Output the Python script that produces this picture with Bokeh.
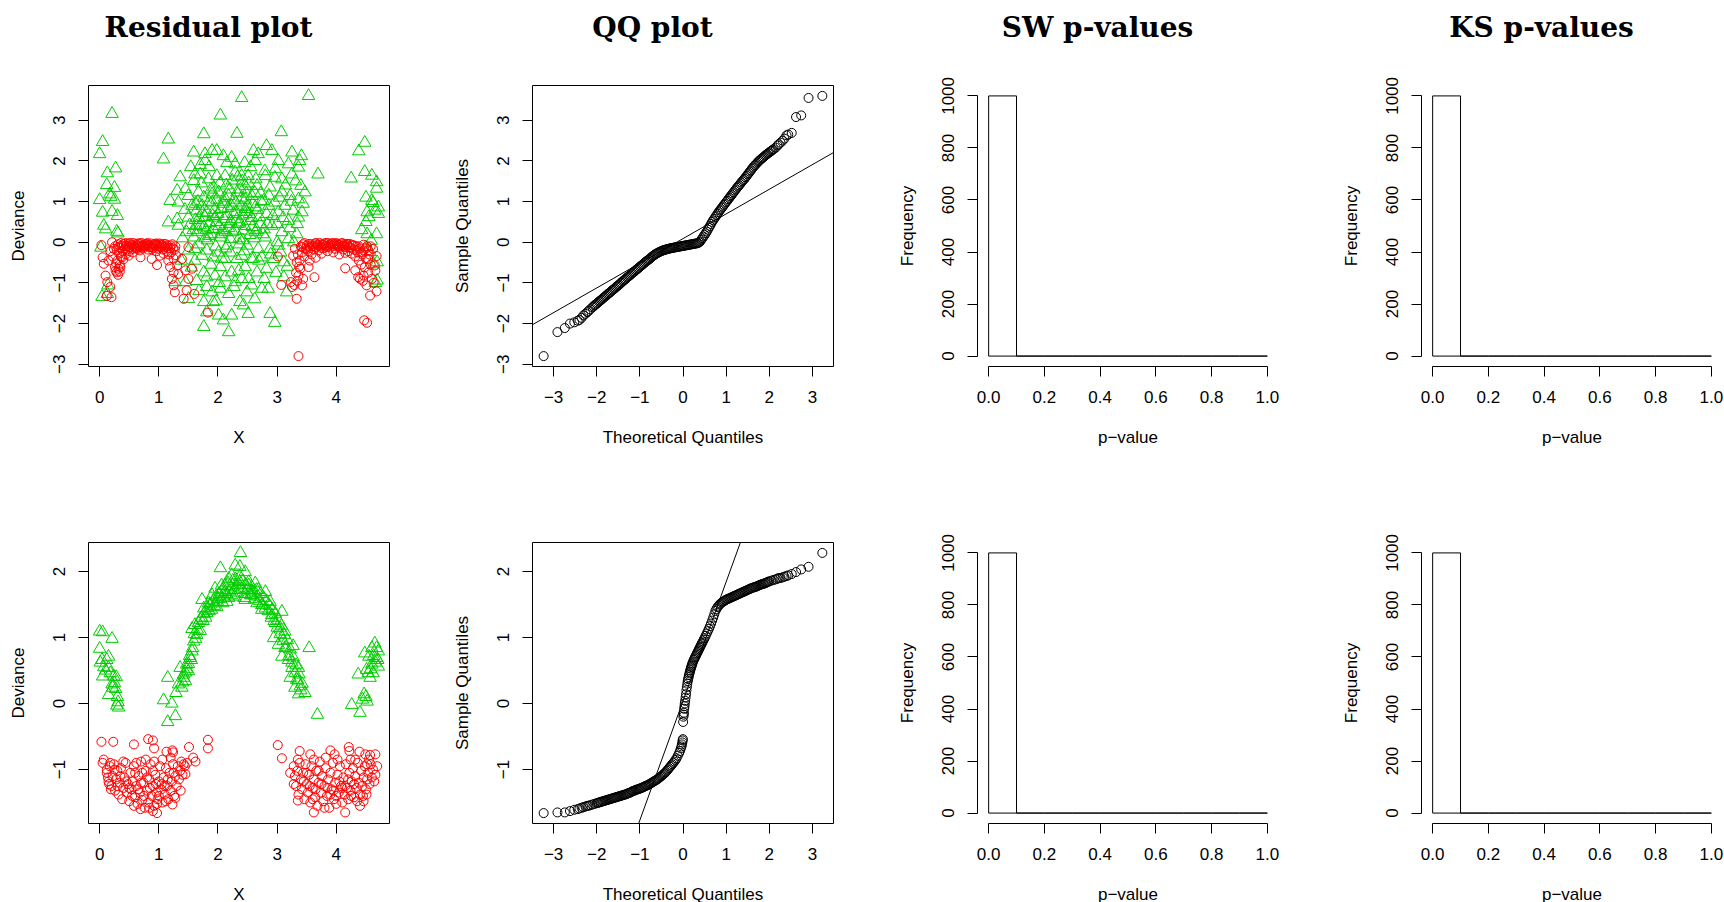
import numpy as np
from statistics import NormalDist

from bokeh.plotting import figure
from bokeh.models import Range1d, FixedTicker, CustomJSTickFormatter, Slope
from bokeh.layouts import column, row
from bokeh.embed import file_html
from bokeh.resources import INLINE
from bokeh.core.properties import value

# ---------------------------------------------------------------- data
titles = ["Residual plot", "QQ plot", "SW p-values", "KS p-values"]

# top row: deviance residuals against X (green = one group, red = the other)
res1_green = [
    (0.00, 2.17), (0.05, 2.47), (0.21, 3.16), (0.00, 1.04), (0.13, 1.70), (0.27, 1.82), (0.12, 1.41),
    (0.25, 1.34), (0.17, 1.18), (0.25, 1.05), (0.05, 0.73), (0.21, 0.75), (0.30, 0.65), (0.07, 0.41),
    (0.10, 0.32), (0.29, 0.26), (0.31, 0.22), (0.02, -0.13), (0.04, -1.34), (0.13, -1.27), (0.14, -1.06),
    (0.19, 1.12),
    (1.08, 2.04), (1.16, 2.53), (1.76, 2.66), (2.04, 3.12), (2.40, 3.55), (2.32, 2.67), (1.59, 2.21),
    (1.78, 2.17), (1.90, 2.25), (1.98, 2.25), (1.78, 2.00), (2.09, 2.12), (2.23, 2.08), (2.29, 1.92),
    (1.61, 1.67), (1.70, 1.67), (1.59, 1.51), (1.84, 1.55), (1.98, 1.63), (2.12, 1.63), (2.29, 1.72),
    (1.31, 1.27), (1.45, 1.31), (1.19, 1.02), (1.33, 0.98), (1.50, 1.14), (1.67, 1.23), (1.76, 1.10),
    (1.90, 1.18), (2.01, 1.23), (2.18, 1.14), (2.32, 1.23), (1.16, 0.49), (1.31, 0.57), (1.33, 0.41),
    (1.50, 0.61), (1.56, 0.90), (1.64, 0.78), (1.73, 0.90), (1.81, 0.74), (1.90, 0.98), (1.95, 0.61),
    (2.06, 0.82), (2.15, 0.65), (2.23, 0.90), (2.32, 0.57), (1.47, 0.25), (1.59, 0.12), (1.67, 0.25),
    (1.76, 0.37), (1.84, 0.16), (1.92, 0.33), (2.04, 0.12), (2.12, 0.25), (2.21, 0.08), (2.29, 0.29),
    (1.50, -0.20), (1.61, -0.16), (1.73, -0.33), (1.81, -0.20), (1.92, -0.37), (2.01, -0.25), (2.12, -0.41),
    (2.21, -0.25), (2.32, -0.41), (1.61, -0.45), (1.76, -0.74), (1.81, -0.86), (1.95, -0.82), (2.04, -0.61),
    (2.12, -0.86), (2.23, -0.74), (2.29, -0.98), (1.28, -0.98), (1.45, -0.98), (1.50, -1.39), (1.81, -1.10),
    (1.90, -1.23), (2.04, -1.14), (2.18, -1.27), (1.76, -1.47), (1.81, -1.72), (1.76, -2.08), (2.01, -1.80),
    (2.23, -1.80), (2.09, -1.92), (2.18, -2.21), (1.92, -1.47),
    (3.53, 3.60), (3.07, 2.71), (2.82, 2.37), (2.91, 2.25), (2.68, 2.17), (2.63, 2.00), (3.25, 2.21),
    (3.41, 2.12), (3.02, 2.00), (3.19, 1.92), (3.36, 1.84), (3.69, 1.67), (2.40, 1.63), (2.51, 1.63),
    (2.80, 1.63), (2.96, 1.59), (3.08, 1.55), (3.25, 1.67), (3.40, 1.39), (3.47, 1.23), (2.46, 1.39),
    (2.66, 1.39), (2.88, 1.35), (3.08, 1.23), (3.22, 1.14), (3.36, 1.06), (2.40, 1.10), (2.57, 1.14),
    (2.77, 1.02), (2.96, 0.98), (3.13, 0.90), (3.27, 0.78), (3.42, 0.74), (2.46, 0.82), (2.63, 0.86),
    (2.82, 0.70), (3.02, 0.74), (3.19, 0.53), (3.36, 0.61), (2.37, 0.49), (2.54, 0.53), (2.71, 0.45),
    (2.91, 0.41), (3.08, 0.25), (3.33, 0.20), (2.43, 0.29), (2.63, 0.25), (2.80, 0.12), (3.00, 0.00),
    (3.19, 0.08), (2.49, -0.08), (2.68, -0.16), (2.88, -0.16), (3.02, -0.08), (2.40, -0.33), (2.57, -0.41),
    (2.74, -0.37), (2.94, -0.41), (3.11, -0.49), (2.46, -0.61), (2.66, -0.74), (2.82, -0.65), (3.11, -0.86),
    (2.40, -0.90), (2.57, -1.06), (2.74, -1.14), (2.49, -1.23), (2.85, -1.14), (3.16, -1.23), (2.37, -1.47),
    (2.51, -1.76), (2.88, -1.76), (2.96, -1.98), (2.43, -1.55),
    (1.62, 0.55), (1.70, 0.42), (1.78, 0.62), (1.86, 0.48), (1.94, 0.80), (2.02, 0.40), (2.10, 0.58),
    (2.18, 0.35), (2.26, 0.70), (2.34, 0.45), (2.42, 0.66), (2.50, 0.88), (2.58, 0.38), (1.66, 1.00),
    (1.74, 0.72), (1.88, 1.30), (1.98, 1.05), (2.05, 0.20), (2.14, 1.40), (2.22, 0.52), (2.30, 0.98),
    (2.38, 1.30), (2.46, 1.05), (2.54, 0.18), (2.62, 1.22), (2.70, 0.62), (2.78, 0.32), (1.58, 0.30),
    (1.68, -0.05), (1.82, 0.05), (1.96, -0.10), (2.08, 0.95), (2.16, -0.08), (2.24, 1.52), (2.36, 0.10),
    (2.44, -0.22), (2.52, 1.45), (2.60, -0.40), (2.72, 1.20), (2.86, 0.90), (1.52, 0.42), (1.44, 0.80),
    (1.38, -0.45), (1.55, -0.62), (1.64, -0.95),
    (1.62, 0.95), (1.68, 0.60), (1.72, 1.45), (1.80, 0.30), (1.85, 1.00), (1.88, 0.20), (1.93, 1.35),
    (1.97, 0.50), (2.00, 0.70), (2.03, 1.45), (2.07, 0.30), (2.11, 1.10), (2.13, -0.15), (2.17, 0.85),
    (2.20, 1.30), (2.25, 0.25), (2.27, 1.05), (2.31, 0.75), (2.33, 1.60), (2.36, -0.05), (2.39, 0.88),
    (2.41, 1.50), (2.45, 0.40), (2.48, 1.20), (2.53, 0.70), (2.55, 1.85), (2.59, 0.95), (2.61, 0.10),
    (2.64, 1.55), (2.67, 0.80), (2.69, -0.45), (2.73, 1.00), (2.76, 0.20), (2.79, 1.75), (2.83, 0.45),
    (2.86, 1.15), (2.89, -0.30), (2.93, 0.65), (2.97, 1.80), (3.00, 0.45), (3.04, 1.10), (3.06, -0.25),
    (3.10, 0.60), (3.14, 1.40), (3.17, -0.60), (3.21, 0.35), (3.24, 1.00), (3.28, 0.00), (3.31, 1.50),
    (3.34, 0.45), (3.38, 2.00), (3.44, 0.95), (1.70, 1.90), (1.85, 1.85), (2.15, 1.95), (2.45, 1.95),
    (2.60, 2.25), (1.40, 0.10), (1.36, 1.60), (1.54, 1.85), (1.88, -0.55), (2.02, -1.00), (2.27, -1.10),
    (2.52, -0.90), (2.78, -0.90), (2.98, -0.75), (1.97, -1.45), (2.62, -1.40), (1.68, -1.20), (2.35, -0.70),
    (2.06, -0.40), (2.42, 0.05), (1.78, 0.10), (2.19, 0.45), (2.57, 0.60), (1.91, 0.65), (2.10, 1.00),
    (2.48, 0.75), (2.65, 0.30), (1.64, 0.40),
    (4.48, 2.45), (4.38, 2.24), (4.25, 1.57), (4.48, 1.73), (4.60, 1.64), (4.68, 1.48), (4.68, 1.32),
    (4.50, 1.10), (4.60, 1.02), (4.71, 0.86), (4.52, 0.74), (4.65, 0.78), (4.71, 0.70), (4.50, 0.50),
    (4.43, 0.30), (4.52, 0.20), (4.68, 0.20), (4.59, 0.04), (4.50, -0.12), (4.69, -0.49), (4.63, -0.54),
    (4.69, -0.94), (4.66, -1.00), (4.57, -0.24), (4.62, 0.97), (4.55, 0.62),
]

res1_red = [
    (0.03, -0.07), (0.05, -0.37), (0.07, -0.53), (0.10, -0.82), (0.13, -0.98), (0.18, -1.10), (0.20, -1.35),
    (0.12, -1.32), (0.26, -0.61), (0.32, -0.65), (0.35, -0.61), (0.29, -0.74), (0.24, -0.16), (0.21, 0.00),
    (0.38, -0.37), (0.49, -0.33), (0.69, -0.37), (0.97, -0.56), (0.88, -0.41), (1.02, -0.33), (1.16, -0.45),
    (1.19, -0.61), (1.31, -0.57), (1.25, -0.74), (1.33, -0.78), (1.25, -1.06), (1.22, -0.90), (1.27, -1.23),
    (1.39, -0.41), (1.45, -0.69), (1.50, -0.12), (1.56, -0.65), (1.50, -0.90), (1.47, -1.18), (1.60, -1.27),
    (1.42, -1.39), (1.83, -1.73), (0.31, -0.80), (0.27, -0.70), (0.34, -0.72),
    (0.26, -0.10), (0.29, -0.20), (0.31, -0.05), (0.33, -0.28), (0.35, -0.14), (0.37, -0.08), (0.39, -0.22),
    (0.41, -0.04), (0.43, -0.15), (0.45, -0.09), (0.47, -0.18), (0.49, -0.03), (0.51, -0.12), (0.53, -0.06),
    (0.55, -0.16), (0.57, -0.02), (0.59, -0.10), (0.61, -0.05), (0.63, -0.13), (0.65, -0.03), (0.67, -0.08),
    (0.69, -0.12), (0.71, -0.02), (0.73, -0.07), (0.75, -0.11), (0.77, -0.04), (0.79, -0.09), (0.81, -0.02),
    (0.83, -0.06), (0.85, -0.12), (0.87, -0.03), (0.89, -0.08), (0.91, -0.14), (0.93, -0.04), (0.95, -0.10),
    (0.97, -0.06), (0.99, -0.16), (1.01, -0.03), (1.03, -0.11), (1.05, -0.07), (1.07, -0.18), (1.09, -0.04),
    (1.11, -0.12), (1.13, -0.22), (1.15, -0.08), (1.17, -0.30), (1.19, -0.14), (1.21, -0.25), (1.23, -0.05),
    (1.25, -0.40), (1.27, -0.18), (1.29, -0.32), (0.44, -0.30), (0.56, -0.25), (0.68, -0.20), (0.82, -0.18),
    (0.96, -0.22), (1.08, -0.28), (0.62, -0.16), (0.74, -0.15), (0.88, -0.17), (0.50, -0.22), (0.36, -0.35),
    (0.40, -0.42), (0.30, -0.45), (0.34, -0.55), (0.28, -0.52), (0.22, -0.35), (0.18, -0.22), (0.15, -0.45),
    (0.32, -0.12), (0.36, -0.02), (0.40, -0.10), (0.44, -0.02), (0.48, -0.10), (0.52, -0.02), (0.56, -0.08),
    (0.60, -0.14), (0.64, -0.08), (0.68, -0.03), (0.72, -0.10), (0.76, -0.08), (0.80, -0.05), (0.84, -0.09),
    (0.88, -0.12), (0.92, -0.07), (0.96, -0.03), (1.00, -0.09), (1.04, -0.05), (1.08, -0.10), (1.12, -0.05),
    (1.16, -0.15), (1.20, -0.08), (1.24, -0.15), (1.28, -0.10),
    (3.01, -0.35), (3.07, -1.05), (3.25, -1.10), (3.42, -1.06), (3.44, -0.90), (3.33, -1.39), (3.36, -2.80),
    (3.23, -0.98), (3.36, -0.82), (3.39, -0.65), (3.53, -0.61), (3.63, -0.86), (3.33, -0.49), (3.30, -0.16),
    (3.27, -0.33), (4.15, -0.64), (4.32, -0.69), (4.37, -0.86), (4.46, -0.82), (4.40, -0.90), (4.51, -1.06),
    (4.57, -1.31), (4.68, -1.21), (4.47, -1.92), (4.52, -1.98), (4.62, -0.16), (4.68, -0.34), (4.65, -0.57),
    (4.54, -0.41),
    (3.40, -0.10), (3.42, -0.25), (3.44, -0.05), (3.46, -0.35), (3.48, -0.15), (3.50, -0.08), (3.52, -0.22),
    (3.54, -0.04), (3.56, -0.14), (3.58, -0.30), (3.60, -0.09), (3.62, -0.18), (3.64, -0.03), (3.66, -0.12),
    (3.68, -0.06), (3.70, -0.20), (3.72, -0.02), (3.74, -0.10), (3.76, -0.05), (3.78, -0.15), (3.80, -0.03),
    (3.82, -0.08), (3.84, -0.12), (3.86, -0.02), (3.88, -0.07), (3.90, -0.13), (3.92, -0.03), (3.94, -0.09),
    (3.96, -0.05), (3.98, -0.16), (4.00, -0.02), (4.02, -0.10), (4.04, -0.06), (4.06, -0.14), (4.08, -0.03),
    (4.10, -0.09), (4.12, -0.18), (4.14, -0.05), (4.16, -0.12), (4.18, -0.07), (4.20, -0.22), (4.22, -0.04),
    (4.24, -0.14), (4.26, -0.28), (4.28, -0.08), (4.30, -0.18), (4.32, -0.35), (4.34, -0.10), (4.36, -0.25),
    (4.38, -0.45), (4.40, -0.15), (4.42, -0.55), (4.44, -0.30), (4.46, -0.20), (4.48, -0.62), (4.50, -0.40),
    (4.52, -0.10), (4.54, -0.75), (4.56, -0.30), (4.58, -0.55), (3.55, -0.45), (3.65, -0.38), (3.75, -0.28),
    (3.85, -0.22), (3.95, -0.25), (4.05, -0.30), (4.15, -0.26), (3.35, -0.30), (3.37, -0.60), (3.38, -0.45),
    (3.32, -0.75), (3.34, -0.95), (3.29, -1.05), (4.60, -0.90), (4.63, -1.00), (4.66, -0.70), (4.45, -0.95),
    (3.42, -0.12), (3.46, -0.02), (3.50, -0.18), (3.54, -0.10), (3.58, -0.05), (3.62, -0.10), (3.66, -0.02),
    (3.70, -0.08), (3.74, -0.14), (3.78, -0.06), (3.82, -0.02), (3.86, -0.10), (3.90, -0.05), (3.94, -0.02),
    (3.98, -0.08), (4.02, -0.04), (4.06, -0.08), (4.10, -0.02), (4.14, -0.10), (4.18, -0.04), (4.22, -0.12),
    (4.26, -0.06), (4.30, -0.08), (4.34, -0.20), (4.38, -0.10), (4.42, -0.25), (4.46, -0.06), (4.50, -0.15),
    (4.54, -0.20), (4.58, -0.10),
]

# bottom row residuals
res2_green = [
    (0.00, 1.09), (0.05, 1.08), (0.21, 0.98), (0.00, 0.83), (0.04, 0.66), (0.12, 0.66), (0.15, 0.71),
    (0.07, 0.55), (0.05, 0.41), (0.15, 0.54), (0.24, 0.41), (0.28, 0.40), (0.21, 0.29), (0.25, 0.31),
    (0.22, 0.24), (0.15, 0.13), (0.31, 0.02), (0.29, -0.03), (0.32, -0.06), (0.01, 0.62), (0.10, 0.50),
    (0.18, 0.46), (0.27, 0.22), (0.30, 0.10),
    (1.08, 0.05), (1.15, 0.39), (1.15, -0.28), (1.28, -0.19), (1.22, 0.00), (1.29, 0.16), (1.33, 0.29),
    (1.39, 0.24), (1.42, 0.39), (1.45, 0.34), (1.50, 0.49), (1.36, 0.54), (1.47, 0.59), (1.53, 0.69),
    (1.56, 0.79), (1.59, 0.94), (1.56, 1.13), (1.61, 1.19), (1.64, 1.04), (1.70, 1.27), (1.73, 1.57),
    (1.76, 1.44), (1.81, 1.37), (1.84, 1.52), (1.90, 1.64), (1.95, 1.74), (2.04, 2.05), (2.00, 1.59),
    (2.06, 1.79), (2.12, 1.69), (2.18, 1.89), (2.23, 1.94), (2.29, 2.09), (2.38, 2.28), (2.15, 1.54),
    (2.23, 1.64), (2.32, 1.79), (2.37, 2.07), (2.46, 1.99), (2.37, 1.84), (2.52, 1.79), (2.63, 1.82),
    (2.68, 1.72), (2.80, 1.69), (2.88, 1.54), (3.08, 1.39), (2.57, 1.64), (2.46, 1.57), (2.74, 1.49),
    (2.91, 1.34), (2.97, 1.22), (3.05, 1.14), (3.13, 1.09), (2.94, 0.99), (3.02, 0.89), (3.13, 0.84),
    (3.27, 0.87), (3.08, 0.71), (3.19, 0.66), (3.36, 0.54), (3.25, 0.54), (3.22, 0.39), (3.33, 0.36),
    (3.30, 0.24), (3.39, 0.26), (3.36, 0.14), (3.47, 0.16), (3.54, 0.84), (3.68, -0.17),
    (1.60, 1.05), (1.62, 0.98), (1.65, 1.12), (1.67, 1.22), (1.70, 1.10), (1.72, 1.30), (1.75, 1.25),
    (1.77, 1.36), (1.79, 1.30), (1.82, 1.45), (1.85, 1.40), (1.87, 1.50), (1.89, 1.42), (1.92, 1.56),
    (1.94, 1.48), (1.97, 1.62), (1.99, 1.54), (2.02, 1.66), (2.05, 1.58), (2.07, 1.72), (2.10, 1.62),
    (2.12, 1.78), (2.15, 1.66), (2.17, 1.82), (2.20, 1.70), (2.22, 1.76), (2.25, 1.86), (2.27, 1.72),
    (2.30, 1.88), (2.32, 1.68), (2.35, 1.80), (2.37, 1.92), (2.40, 1.74), (2.42, 1.86), (2.45, 1.66),
    (2.47, 1.80), (2.50, 1.72), (2.52, 1.84), (2.55, 1.64), (2.57, 1.76), (2.60, 1.68), (2.62, 1.58),
    (2.65, 1.72), (2.67, 1.62), (2.70, 1.55), (2.72, 1.66), (2.75, 1.50), (2.77, 1.60), (2.80, 1.44),
    (2.82, 1.55), (2.85, 1.40), (2.87, 1.48), (2.90, 1.30), (2.92, 1.42), (2.95, 1.25), (2.97, 1.36),
    (3.00, 1.15), (3.02, 1.26), (3.05, 1.05), (3.07, 1.18), (3.10, 0.95), (3.12, 1.04), (3.15, 0.85),
    (3.17, 0.96), (3.20, 0.72), (3.22, 0.82), (3.25, 0.62), (3.27, 0.70), (3.30, 0.46), (3.32, 0.58),
    (3.35, 0.35), (3.37, 0.44), (3.40, 0.20), (3.42, 0.30), (1.50, 0.60), (1.52, 0.72), (1.55, 0.66),
    (1.57, 0.84), (1.45, 0.47), (1.47, 0.52), (1.40, 0.32), (1.42, 0.44), (2.28, 1.62), (2.44, 1.60),
    (2.18, 1.60), (2.56, 1.70), (2.08, 1.52), (2.66, 1.52), (1.98, 1.46), (2.74, 1.42),
    (4.26, -0.02), (4.40, -0.14), (4.47, 0.14), (4.44, 0.06), (4.37, 0.44), (4.48, 0.76), (4.55, 0.71),
    (4.60, 0.59), (4.51, 0.51), (4.65, 0.91), (4.68, 0.84), (4.71, 0.79), (4.62, 0.46), (4.57, 0.39),
    (4.68, 0.69), (4.60, 0.84), (4.54, 0.46), (4.71, 0.56), (4.50, 0.10), (4.52, 0.03), (4.66, 0.62),
    (4.63, 0.72), (4.58, 0.52), (4.70, 0.66),
]

res2_red = [
    (0.03, -0.58), (0.23, -0.58), (0.58, -0.62), (0.82, -0.54), (0.90, -0.56), (0.92, -0.68), (1.13, -0.73),
    (1.23, -0.71), (1.24, -0.74), (1.51, -0.66), (1.83, -0.55), (1.83, -0.68), (1.58, -0.82), (1.62, -0.88),
    (0.97, -1.66), (0.69, -1.60), (0.90, -1.63), (0.07, -0.85), (0.05, -0.90), (0.12, -1.00), (0.14, -1.12),
    (0.16, -1.22), (0.19, -1.30), (1.23, -1.53), (1.28, -1.43), (1.37, -1.32), (1.45, -1.07), (1.42, -0.92),
    (0.12, -1.05), (0.15, -1.18), (0.17, -0.95), (0.20, -1.25), (0.22, -1.10), (0.24, -0.92), (0.26, -1.32),
    (0.28, -1.15), (0.30, -1.02), (0.32, -1.38), (0.34, -1.20), (0.36, -0.98), (0.38, -1.45), (0.40, -1.28),
    (0.42, -1.12), (0.44, -0.90), (0.46, -1.35), (0.48, -1.22), (0.50, -1.48), (0.52, -1.05), (0.54, -1.30),
    (0.56, -1.18), (0.58, -0.95), (0.60, -1.42), (0.62, -1.25), (0.64, -1.52), (0.66, -1.10), (0.68, -1.35),
    (0.70, -0.88), (0.72, -1.46), (0.74, -1.20), (0.76, -1.58), (0.78, -1.02), (0.80, -1.32), (0.82, -1.50),
    (0.84, -1.15), (0.86, -0.92), (0.88, -1.40), (0.90, -1.25), (0.92, -1.55), (0.94, -1.08), (0.96, -1.35),
    (0.98, -1.45), (1.00, -1.18), (1.02, -0.95), (1.04, -1.30), (1.06, -1.50), (1.08, -1.12), (1.10, -1.38),
    (1.12, -0.98), (1.14, -1.25), (1.16, -1.45), (1.18, -1.05), (1.20, -1.32), (1.22, -1.18), (1.24, -0.92),
    (1.26, -1.40), (1.28, -1.10), (1.30, -1.25), (1.32, -0.95), (1.34, -1.15), (1.36, -1.02), (1.38, -0.88),
    (1.40, -1.08), (1.44, -0.95), (1.48, -0.90), (0.35, -1.10), (0.45, -1.18), (0.55, -1.40), (0.65, -1.30),
    (0.75, -1.40), (0.85, -1.28), (0.95, -1.22), (1.05, -1.22), (1.15, -1.15), (1.25, -1.05), (0.25, -1.00),
    (0.18, -0.90), (0.40, -0.88), (0.60, -1.05), (0.70, -1.20), (0.80, -1.12), (0.90, -1.02), (1.00, -1.40),
    (1.10, -1.25), (0.50, -1.28), (0.58, -1.55), (0.72, -1.05), (0.84, -1.58), (0.97, -1.52), (1.12, -1.48),
    (0.30, -1.25), (0.62, -0.90), (0.78, -0.85), (0.92, -0.88), (1.06, -0.85), (1.20, -0.82),
    (3.01, -0.63), (3.08, -0.83), (3.22, -1.05), (3.28, -1.22), (3.35, -1.47), (3.62, -1.65), (4.15, -1.65),
    (3.38, -0.72), (3.56, -0.77), (3.90, -0.71), (3.97, -0.77), (4.21, -0.66), (4.22, -0.72), (4.39, -0.73),
    (4.49, -0.77), (4.57, -0.78), (4.66, -0.77), (4.69, -0.95), (4.52, -0.92), (4.46, -1.48), (4.51, -1.38),
    (4.24, -0.85),
    (3.28, -0.95), (3.30, -1.10), (3.32, -1.25), (3.34, -1.02), (3.36, -1.38), (3.38, -0.90), (3.40, -1.15),
    (3.42, -1.30), (3.44, -1.05), (3.46, -1.45), (3.48, -0.92), (3.50, -1.22), (3.52, -1.35), (3.54, -1.08),
    (3.56, -1.50), (3.58, -0.95), (3.60, -1.28), (3.62, -1.15), (3.64, -1.42), (3.66, -1.02), (3.68, -1.55),
    (3.70, -1.20), (3.72, -0.88), (3.74, -1.35), (3.76, -1.10), (3.78, -1.48), (3.80, -1.25), (3.82, -0.98),
    (3.84, -1.40), (3.86, -1.15), (3.88, -1.58), (3.90, -1.05), (3.92, -1.30), (3.94, -0.90), (3.96, -1.45),
    (3.98, -1.20), (4.00, -1.52), (4.02, -1.08), (4.04, -1.35), (4.06, -0.95), (4.08, -1.25), (4.10, -1.50),
    (4.12, -1.12), (4.14, -1.38), (4.16, -0.92), (4.18, -1.28), (4.20, -1.45), (4.22, -1.05), (4.24, -1.32),
    (4.26, -1.18), (4.28, -0.98), (4.30, -1.42), (4.32, -1.10), (4.34, -1.28), (4.36, -0.90), (4.38, -1.20),
    (4.40, -1.38), (4.42, -1.02), (4.44, -1.25), (4.46, -1.12), (4.48, -0.95), (4.50, -1.30), (4.52, -1.15),
    (4.54, -1.05), (4.56, -1.22), (4.58, -0.92), (4.60, -1.12), (4.62, -1.00), (4.64, -1.18), (4.66, -1.08),
    (3.45, -1.18), (3.55, -1.25), (3.65, -1.30), (3.75, -1.22), (3.85, -1.28), (3.95, -1.32), (4.05, -1.18),
    (4.15, -1.25), (4.25, -1.40), (4.35, -1.48), (4.45, -1.40), (3.50, -1.05), (3.70, -1.02), (3.90, -1.38),
    (4.10, -1.28), (4.30, -1.22), (3.60, -1.45), (3.80, -1.58), (4.00, -1.40), (4.20, -1.15), (4.40, -1.55),
    (3.35, -0.85), (3.62, -0.85), (3.82, -0.82), (4.02, -0.85), (4.32, -0.85), (4.55, -0.85),
]

# normal QQ plots: (theoretical quantile, sample quantile)
qq1 = [
    (-3.23, -2.80), (-2.91, -2.21), (-2.74, -2.11), (-2.62, -2.00), (-2.52, -1.97), (-2.44, -1.93),
    (-2.40, -1.91), (-2.35, -1.86), (-2.31, -1.80), (-2.26, -1.76), (-2.22, -1.72), (-2.19, -1.69),
    (-2.15, -1.65), (-2.10, -1.60), (-2.05, -1.55), (-2.00, -1.51), (-1.95, -1.46), (-1.90, -1.42),
    (-1.85, -1.37), (-1.80, -1.33), (-1.75, -1.28), (-1.70, -1.24), (-1.65, -1.19), (-1.60, -1.15),
    (-1.55, -1.10), (-1.50, -1.06), (-1.45, -1.01), (-1.40, -0.96), (-1.35, -0.92), (-1.30, -0.87),
    (-1.25, -0.83), (-1.20, -0.78), (-1.15, -0.74), (-1.10, -0.69), (-1.05, -0.65), (-1.00, -0.60),
    (-0.95, -0.56), (-0.90, -0.51), (-0.85, -0.47), (-0.80, -0.43), (-0.75, -0.385), (-0.70, -0.34),
    (-0.65, -0.30), (-0.60, -0.27), (-0.55, -0.24), (-0.50, -0.215), (-0.45, -0.195), (-0.40, -0.18),
    (-0.35, -0.165), (-0.30, -0.15), (-0.25, -0.14), (-0.20, -0.13), (-0.15, -0.12), (-0.10, -0.11),
    (-0.05, -0.10), (0.00, -0.09), (0.05, -0.08), (0.10, -0.07), (0.15, -0.06), (0.20, -0.05),
    (0.25, -0.04), (0.30, -0.03), (0.35, -0.02), (0.40, 0.02), (0.45, 0.10), (0.50, 0.18),
    (0.55, 0.26), (0.60, 0.36), (0.65, 0.45), (0.70, 0.54), (0.75, 0.62), (0.80, 0.70),
    (0.85, 0.78), (0.90, 0.85), (0.95, 0.92), (1.00, 0.99), (1.05, 1.06), (1.10, 1.13),
    (1.15, 1.20), (1.20, 1.27), (1.25, 1.34), (1.30, 1.40), (1.35, 1.47), (1.40, 1.53),
    (1.45, 1.60), (1.50, 1.67), (1.55, 1.74), (1.60, 1.81), (1.65, 1.88), (1.70, 1.93),
    (1.75, 1.99), (1.80, 2.04), (1.85, 2.08), (1.90, 2.13), (1.95, 2.17), (2.00, 2.21),
    (2.05, 2.25), (2.10, 2.29), (2.15, 2.33), (2.19, 2.38), (2.22, 2.41), (2.26, 2.45),
    (2.31, 2.50), (2.35, 2.55), (2.40, 2.63), (2.44, 2.65), (2.52, 2.69), (2.62, 3.08),
    (2.74, 3.12), (2.91, 3.55), (3.23, 3.60),
    (-2.075, -1.58), (-2.025, -1.53), (-1.975, -1.49), (-1.925, -1.44), (-1.875, -1.40), (-1.825, -1.35),
    (-1.775, -1.31), (-1.725, -1.26), (-1.675, -1.22), (-1.625, -1.17), (-1.575, -1.13), (-1.525, -1.08),
    (-1.475, -1.04), (-1.425, -0.99), (-1.375, -0.94), (-1.325, -0.90), (-1.275, -0.85), (-1.225, -0.81),
    (-1.175, -0.76), (-1.125, -0.72), (-1.075, -0.67), (-1.025, -0.63), (-0.975, -0.58), (-0.925, -0.54),
    (-0.875, -0.49), (-0.825, -0.45), (-0.775, -0.41), (-0.725, -0.36), (-0.675, -0.32), (-0.625, -0.285),
    (-0.575, -0.255), (-0.525, -0.23), (-0.475, -0.205), (-0.425, -0.19), (-0.375, -0.17), (-0.325, -0.16),
    (-0.275, -0.145), (-0.225, -0.135), (-0.175, -0.125), (-0.125, -0.115), (-0.075, -0.105),
    (-0.025, -0.095), (0.025, -0.085), (0.075, -0.075), (0.125, -0.065), (0.175, -0.055), (0.225, -0.045),
    (0.275, -0.035), (0.325, -0.025), (0.375, 0.00), (0.425, 0.06), (0.475, 0.14), (0.525, 0.22),
    (0.575, 0.31), (0.625, 0.40), (0.675, 0.50), (0.725, 0.58), (0.775, 0.66), (0.825, 0.74),
    (0.875, 0.81), (0.925, 0.88), (0.975, 0.95), (1.025, 1.02), (1.075, 1.09), (1.125, 1.16),
    (1.175, 1.23), (1.225, 1.30), (1.275, 1.37), (1.325, 1.43), (1.375, 1.50), (1.425, 1.56),
    (1.475, 1.63), (1.525, 1.70), (1.575, 1.77), (1.625, 1.84), (1.675, 1.90), (1.725, 1.96),
    (1.775, 2.01), (1.825, 2.06), (1.875, 2.10), (1.925, 2.15), (1.975, 2.19), (2.025, 2.23),
    (2.075, 2.27),
]

qq2 = [
    (-3.23, -1.66), (-2.91, -1.65), (-2.74, -1.65), (-2.62, -1.63), (-2.52, -1.61), (-2.44, -1.60),
    (-2.40, -1.59), (-2.35, -1.58), (-2.31, -1.57), (-2.26, -1.56), (-2.22, -1.55), (-2.19, -1.55),
    (-2.15, -1.54), (-2.10, -1.53), (-2.05, -1.52), (-2.00, -1.51), (-1.95, -1.50), (-1.90, -1.49),
    (-1.85, -1.48), (-1.80, -1.47), (-1.75, -1.46), (-1.70, -1.45), (-1.65, -1.44), (-1.60, -1.43),
    (-1.55, -1.42), (-1.50, -1.41), (-1.45, -1.40), (-1.40, -1.39), (-1.35, -1.38), (-1.30, -1.37),
    (-1.25, -1.355), (-1.20, -1.34), (-1.15, -1.325), (-1.10, -1.31), (-1.05, -1.30), (-1.00, -1.29),
    (-0.95, -1.275), (-0.90, -1.26), (-0.85, -1.245), (-0.80, -1.23), (-0.75, -1.21), (-0.70, -1.19),
    (-0.65, -1.17), (-0.60, -1.15), (-0.55, -1.125), (-0.50, -1.10), (-0.45, -1.07), (-0.40, -1.04),
    (-0.35, -1.00), (-0.30, -0.96), (-0.25, -0.92), (-0.20, -0.88), (-0.15, -0.83), (-0.12, -0.79),
    (-0.09, -0.75), (-0.07, -0.72), (-0.05, -0.68), (-0.035, -0.65), (-0.025, -0.62), (-0.015, -0.59),
    (-0.009, -0.56), (-0.003, -0.54),
    (0.003, -0.28), (0.009, -0.20), (0.016, -0.17), (0.022, -0.14), (0.028, -0.08), (0.035, -0.04),
    (0.041, 0.00), (0.05, 0.04), (0.06, 0.09), (0.07, 0.14), (0.08, 0.20), (0.09, 0.25),
    (0.10, 0.30), (0.12, 0.37), (0.14, 0.43), (0.16, 0.48), (0.18, 0.53), (0.20, 0.57),
    (0.22, 0.61), (0.25, 0.66), (0.28, 0.70), (0.31, 0.74), (0.34, 0.78), (0.37, 0.82),
    (0.40, 0.86), (0.43, 0.90), (0.46, 0.94), (0.50, 0.99), (0.55, 1.06), (0.60, 1.13),
    (0.65, 1.21), (0.70, 1.30), (0.75, 1.40), (0.80, 1.46), (0.85, 1.50), (0.90, 1.53),
    (0.95, 1.55), (1.00, 1.57), (1.05, 1.585), (1.10, 1.60), (1.15, 1.615), (1.20, 1.63),
    (1.25, 1.645), (1.30, 1.66), (1.35, 1.675), (1.40, 1.69), (1.45, 1.705), (1.50, 1.72),
    (1.55, 1.735), (1.60, 1.75), (1.65, 1.76), (1.70, 1.77), (1.75, 1.785), (1.80, 1.80),
    (1.85, 1.81), (1.90, 1.82), (1.95, 1.835), (2.00, 1.85), (2.05, 1.86), (2.10, 1.87),
    (2.15, 1.88), (2.19, 1.89), (2.22, 1.90), (2.26, 1.90), (2.31, 1.91), (2.35, 1.92),
    (2.40, 1.93), (2.44, 1.94), (2.52, 1.96), (2.62, 1.99), (2.74, 2.03), (2.91, 2.07),
    (3.23, 2.28),
    (-1.975, -1.505), (-1.925, -1.495), (-1.875, -1.485), (-1.825, -1.475), (-1.775, -1.465),
    (-1.725, -1.455), (-1.675, -1.445), (-1.625, -1.435), (-1.575, -1.425), (-1.525, -1.415),
    (-1.475, -1.405), (-1.425, -1.395), (-1.375, -1.385), (-1.325, -1.375), (-1.275, -1.36),
    (-1.225, -1.35), (-1.175, -1.33), (-1.125, -1.32), (-1.075, -1.305), (-1.025, -1.295),
    (-0.975, -1.28), (-0.925, -1.27), (-0.875, -1.25), (-0.825, -1.24), (-0.775, -1.22),
    (-0.725, -1.20), (-0.675, -1.18), (-0.625, -1.16), (-0.575, -1.14), (-0.525, -1.11),
    (-0.475, -1.085), (-0.425, -1.055), (-0.375, -1.02), (-0.325, -0.98), (-0.275, -0.94),
    (-0.225, -0.90), (-0.175, -0.855),
    (0.11, 0.34), (0.13, 0.40), (0.15, 0.455), (0.17, 0.505), (0.19, 0.55), (0.21, 0.59),
    (0.235, 0.635), (0.265, 0.68), (0.295, 0.72), (0.325, 0.76), (0.355, 0.80), (0.385, 0.84),
    (0.415, 0.88), (0.445, 0.92), (0.48, 0.965), (0.525, 1.025), (0.575, 1.095), (0.625, 1.17),
    (0.675, 1.255), (0.725, 1.35), (0.775, 1.43), (0.825, 1.48), (0.875, 1.515), (0.925, 1.54),
    (0.975, 1.56), (1.025, 1.578), (1.075, 1.593), (1.125, 1.608), (1.175, 1.623), (1.225, 1.638),
    (1.275, 1.653), (1.325, 1.668), (1.375, 1.683), (1.425, 1.698), (1.475, 1.713), (1.525, 1.728),
    (1.575, 1.742), (1.625, 1.755), (1.675, 1.765), (1.725, 1.778), (1.775, 1.792), (1.825, 1.805),
    (1.875, 1.815), (1.925, 1.828), (1.975, 1.842),
]

# histograms of 1000 simulated p-values
pval_breaks = [0.0, 0.1, 0.2, 0.3, 0.4, 0.5, 0.6, 0.7, 0.8, 0.9, 1.0]
sw1_counts = [1000, 0, 0, 0, 0, 0, 0, 0, 0, 0]
ks1_counts = [1000, 0, 0, 0, 0, 0, 0, 0, 0, 0]
sw2_counts = [1000, 0, 0, 0, 0, 0, 0, 0, 0, 0]
ks2_counts = [1000, 0, 0, 0, 0, 0, 0, 0, 0, 0]

# ---------------------------------------------------------------- layout / style
FONT = "Liberation Sans"
FS = "17px"
GREEN = "#00CD00"
RED = "#FF0000"

COL_W = [444, 445, 444, 391]
LEFT, FW, FH = 88, 301, 281
STRIP_H = 62
TITLE_BASELINE = 27
ROW_TOP = [85 - STRIP_H, 86]
ROW_BOTTOM = [90, 79]


def padded(vals):
    lo, hi = min(vals), max(vals)
    d = (hi - lo) * 0.04
    return Range1d(lo - d, hi + d)


def minus_fmt():
    return CustomJSTickFormatter(code="return (tick < 0 ? '\\u2212' : '') + Math.abs(tick);")


def panel(col, r, x_rng, y_rng, xticks, yticks, xlab, ylab, boxed=True, xfmt=None):
    p = figure(frame_width=FW, frame_height=FH, x_range=x_rng, y_range=y_rng,
               min_border_left=LEFT, min_border_right=COL_W[col] - LEFT - FW,
               min_border_top=ROW_TOP[r], min_border_bottom=ROW_BOTTOM[r],
               toolbar_location=None, tools="", output_backend="svg")
    p.grid.visible = False
    p.background_fill_color = "white"
    p.border_fill_color = "white"
    p.outline_line_color = "black" if boxed else None
    p.outline_line_width = 1
    p.outline_line_alpha = 1.0
    axes = ((p.xaxis[0], xticks, xfmt or minus_fmt(), xlab, 14, 22),
            (p.yaxis[0], yticks, minus_fmt(), ylab, 13, 23))
    for ax, ticks, fmt, lab, s1, s2 in axes:
        ax.ticker = FixedTicker(ticks=ticks)
        ax.bounds = (ticks[0], ticks[-1])
        ax.formatter = fmt
        ax.axis_label = lab
        ax.axis_label_text_font = FONT
        ax.axis_label_text_font_size = FS
        ax.axis_label_text_font_style = "normal"
        ax.axis_label_text_color = "black"
        ax.major_label_text_font = FONT
        ax.major_label_text_font_size = FS
        ax.major_label_text_color = "black"
        ax.axis_line_color = "black"
        ax.major_tick_line_color = "black"
        ax.minor_tick_line_color = None
        ax.major_tick_out = 10
        ax.major_tick_in = 0
        ax.major_label_standoff = s1
        ax.axis_label_standoff = s2
    p.yaxis[0].major_label_orientation = "vertical"
    return p


def residual_panel(r, green, red, yticks):
    gx, gy = zip(*green)
    rx, ry = zip(*red)
    p = panel(0, r, padded(gx + rx), padded(gy + ry), [0, 1, 2, 3, 4], yticks, "X", "Deviance")
    p.scatter(list(gx), list(gy), marker="triangle", size=12.5, fill_color=None,
              line_color=GREEN, line_width=1)
    p.scatter(list(rx), list(ry), marker="circle", size=9, fill_color=None,
              line_color=RED, line_width=1)
    return p


def qq_panel(r, pts, yticks):
    tx, sy = zip(*sorted(pts))
    p = panel(1, r, padded(tx), padded(sy), [-3, -2, -1, 0, 1, 2, 3], yticks,
              "Theoretical Quantiles", "Sample Quantiles")
    p.scatter(list(tx), list(sy), marker="circle", size=9, fill_color=None,
              line_color="black", line_width=1)
    # reference line through the first and third quartiles
    q = NormalDist().inv_cdf(0.75)
    y1 = float(np.interp(-q, tx, sy))
    y3 = float(np.interp(q, tx, sy))
    slope = (y3 - y1) / (2 * q)
    p.add_layout(Slope(gradient=slope, y_intercept=(y1 + y3) / 2,
                       line_color="black", line_width=1))
    return p


def hist_panel(col, r, counts):
    p = panel(col, r, padded(pval_breaks), padded([0] + counts),
              [0.0, 0.2, 0.4, 0.6, 0.8, 1.0], [0, 200, 400, 600, 800, 1000],
              "p\u2212value", "Frequency", boxed=False,
              xfmt=CustomJSTickFormatter(code="return tick.toFixed(1);"))
    p.yaxis[0].formatter = CustomJSTickFormatter(code="return tick.toFixed(0);")
    p.quad(left=pval_breaks[:-1], right=pval_breaks[1:], bottom=0, top=counts,
           fill_color="white", line_color="black", line_width=1)
    return p


# column titles
strip = figure(width=sum(COL_W), height=STRIP_H, x_range=Range1d(0, sum(COL_W)),
               y_range=Range1d(STRIP_H, 0), toolbar_location=None, tools="",
               output_backend="svg", x_axis_type=None, y_axis_type=None, title=None,
               min_border=0, min_border_left=0, min_border_right=0,
               min_border_top=0, min_border_bottom=0)
strip.outline_line_color = None
strip.grid.visible = False
col_left = np.cumsum([0] + COL_W[:-1])
strip.text(x=[float(c) + 208 for c in col_left], y=[TITLE_BASELINE] * 4, text=titles,
           text_align="center", text_baseline="alphabetic",
           text_font=value("DejaVu Serif"), text_font_style="bold",
           text_font_size="28px", text_color="black")

row1 = row(residual_panel(0, res1_green, res1_red, [-3, -2, -1, 0, 1, 2, 3]),
           qq_panel(0, qq1, [-3, -2, -1, 0, 1, 2, 3]),
           hist_panel(2, 0, sw1_counts),
           hist_panel(3, 0, ks1_counts))
row2 = row(residual_panel(1, res2_green, res2_red, [-1, 0, 1, 2]),
           qq_panel(1, qq2, [-1, 0, 1, 2]),
           hist_panel(2, 1, sw2_counts),
           hist_panel(3, 1, ks2_counts))

layout = column(strip, row1, row2)

with open("out.html", "w", encoding="utf-8") as f:
    f.write(file_html(layout, INLINE))
